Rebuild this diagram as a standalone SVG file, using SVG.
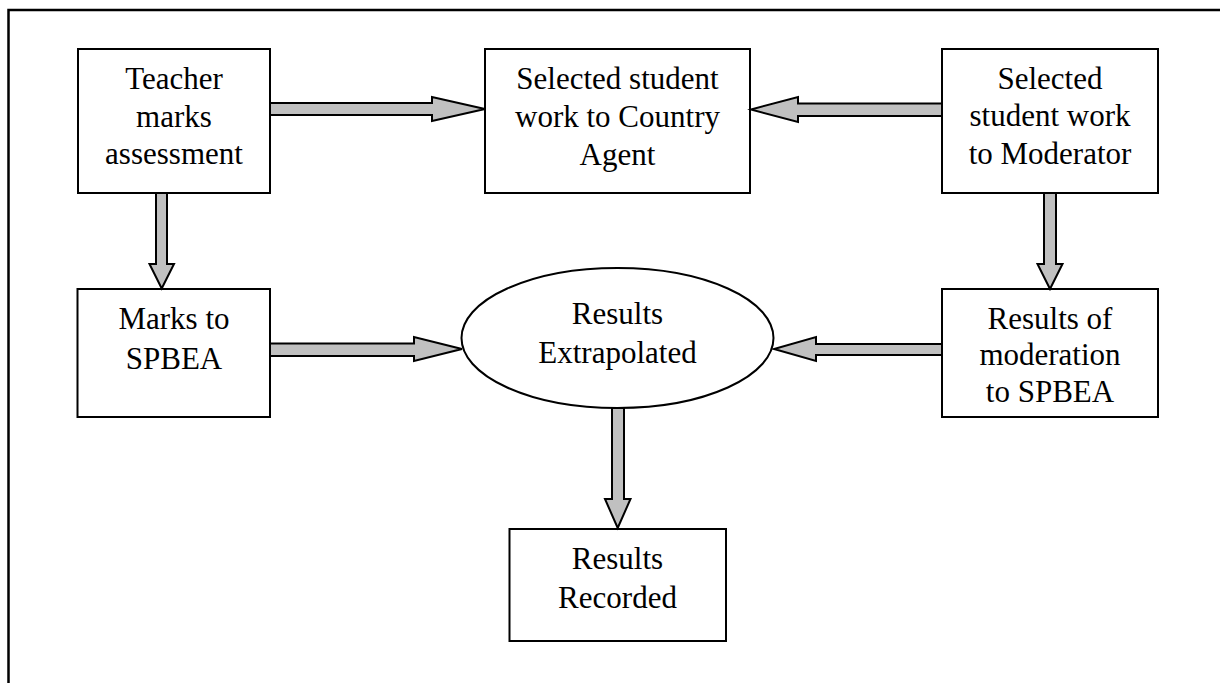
<svg xmlns="http://www.w3.org/2000/svg" width="1220" height="683" viewBox="0 0 1220 683">
<style>
.box{fill:#fff;stroke:#000;stroke-width:2}
.t{font-family:"Liberation Serif","Times New Roman",serif;font-size:31px;fill:#000;text-anchor:middle}
.arr{fill:#c0c0c0;stroke:#000;stroke-width:2;stroke-linejoin:miter}
</style>
<rect width="1220" height="683" fill="#fff"/>
<path d="M8.5,683 V10 H1220" fill="none" stroke="#000" stroke-width="2.5"/>
<g id="teacher">
<rect class="box" x="78" y="49" width="192" height="144"/>
<text class="t" x="174" y="89">Teacher</text>
<text class="t" x="174" y="126.5">marks</text>
<text class="t" x="174" y="164">assessment</text>
</g>
<g id="country-agent">
<rect class="box" x="485" y="49" width="265" height="144"/>
<text class="t" x="617.5" y="88.5">Selected student</text>
<text class="t" x="617.5" y="126.5">work to Country</text>
<text class="t" x="617.5" y="164.5">Agent</text>
</g>
<g id="moderator">
<rect class="box" x="942" y="49" width="216" height="144"/>
<text class="t" x="1050" y="89">Selected</text>
<text class="t" x="1050" y="126">student work</text>
<text class="t" x="1050" y="164">to Moderator</text>
</g>
<g id="marks">
<rect class="box" x="77.5" y="289" width="192.5" height="128"/>
<text class="t" x="174" y="329">Marks to</text>
<text class="t" x="174" y="369">SPBEA</text>
</g>
<g id="extrapolated">
<ellipse class="box" cx="617.5" cy="338" rx="156" ry="70"/>
<text class="t" x="617.5" y="323.5">Results</text>
<text class="t" x="617.5" y="362.5">Extrapolated</text>
</g>
<g id="moderation-results">
<rect class="box" x="942" y="289" width="216" height="128"/>
<text class="t" x="1050" y="328.5">Results of</text>
<text class="t" x="1050" y="365">moderation</text>
<text class="t" x="1050" y="402">to SPBEA</text>
</g>
<g id="recorded">
<rect class="box" x="509.5" y="529" width="216.5" height="112"/>
<text class="t" x="617.5" y="568.5">Results</text>
<text class="t" x="617.5" y="608">Recorded</text>
</g>
<g id="connectors">
<polygon class="arr" points="270,103 432,103 432,97 485,109 432,121 432,115 270,115"/>
<polygon class="arr" points="942,103.5 798,103.5 798,97 751,109.5 798,122 798,116 942,116"/>
<polygon class="arr" points="156,193 167,193 167,264 174,264 161.7,288.5 149.5,264 156,264"/>
<polygon class="arr" points="1044,193 1056,193 1056,264 1062.5,264 1050,289 1037.5,264 1044,264"/>
<polygon class="arr" points="270,343.5 414,343.5 414,337 462,349 414,361 414,356 270,356"/>
<polygon class="arr" points="942,344 816,344 816,337 774,349 816,361 816,355 942,355"/>
<polygon class="arr" points="612,408 624,408 624,499 630.5,499 617.7,528 605,499 612,499"/>
</g>
</svg>
